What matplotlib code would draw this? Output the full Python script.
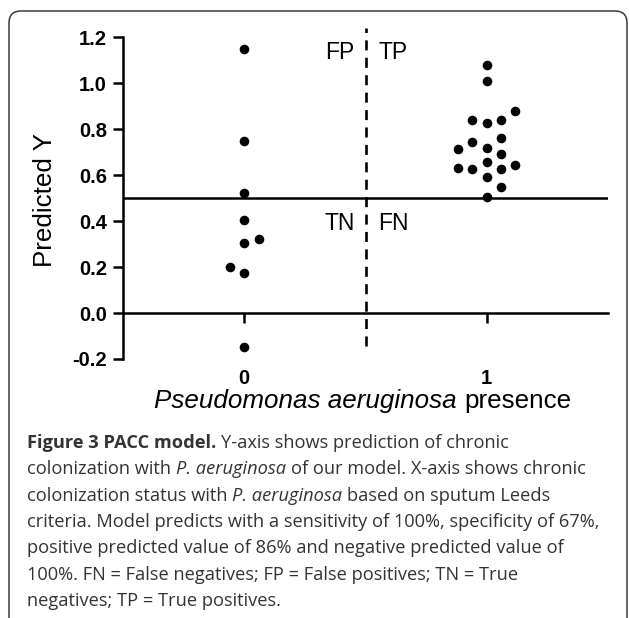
import numpy as np
import matplotlib
matplotlib.use("Agg")
import matplotlib.pyplot as plt
from matplotlib.patches import FancyBboxPatch
from matplotlib.transforms import IdentityTransform

# ---------------- data ----------------
categories = ["0", "1"]
# predicted Y for patients without / with chronic P. aeruginosa colonization
group0_pred = [1.148, 0.748, 0.522, 0.404, 0.304, 0.320, 0.173, 0.200, -0.148]
group1_pred = [1.010, 1.078, 0.828, 0.838, 0.838, 0.881, 0.719, 0.745, 0.760,
               0.655, 0.590, 0.625, 0.625, 0.632, 0.503, 0.547, 0.643, 0.694,
               0.713]
yticks = [-0.2, 0.0, 0.2, 0.4, 0.6, 0.8, 1.0, 1.2]
ytick_labels = ["-0.2", "0.0", "0.2", "0.4", "0.6", "0.8", "1.0", "1.2"]
cutoff_y = 0.5          # model decision threshold
divider_x = 0.5         # boundary between the two observed classes
quadrant_labels = {"FP": "upper left", "TP": "upper right",
                   "TN": "lower left", "FN": "lower right"}
ylabel_text = "Predicted Y"
xlabel_runs = [("Pseudomonas aeruginosa", "italic"), (" presence", "normal")]
caption_lines = [
    [("Figure 3 PACC model.", "bold"), (" Y-axis shows prediction of chronic", "normal")],
    [("colonization with ", "normal"), ("P. aeruginosa", "italic"),
     (" of our model. X-axis shows chronic", "normal")],
    [("colonization status with ", "normal"), ("P. aeruginosa", "italic"),
     (" based on sputum Leeds", "normal")],
    [("criteria. Model predicts with a sensitivity of 100%, specificity of 67%,", "normal")],
    [("positive predicted value of 86% and negative predicted value of", "normal")],
    [("100%. FN = False negatives; FP = False positives; TN = True", "normal")],
    [("negatives; TP = True positives.", "normal")],
]

# ---------------- style / layout ----------------
W, H, DPI = 629, 618, 100
CHART_FONT = ["Liberation Sans", "DejaVu Sans"]
CAP_FONT = ["Open Sans", "Lato", "DejaVu Sans"]
CAP_COLOR = "#333333"
SWARM_STEP = 0.059
SWARM_MIN_GAP = 0.058

plt.rcParams["font.family"] = CHART_FONT

fig = plt.figure(figsize=(W / DPI, H / DPI), dpi=DPI)
fig.patch.set_facecolor("white")
renderer = fig.canvas.get_renderer()

ax = fig.add_axes([123 / W, (H - 359) / H, 485 / W, 331 / H])
ax.set_xlim(-0.5, 1.5)
ax.set_ylim(-0.2, 1.24)
ax.patch.set_visible(False)
for side in ("top", "right"):
    ax.spines[side].set_visible(False)
ax.spines["bottom"].set_position(("data", 0))
ax.spines["left"].set_bounds(yticks[0], yticks[-1])
for side in ("left", "bottom"):
    ax.spines[side].set_linewidth(1.8)
    ax.spines[side].set_color("black")


def swarm_columns(values, min_gap):
    placed, cols = [], []
    n_left = n_right = 0
    for v in values:
        def free(c):
            return all(not (pc == c and abs(pv - v) < min_gap) for pc, pv in placed)
        if free(0):
            c = 0
        else:
            c, m = None, 1
            while c is None:
                order = (-m, m) if n_left < n_right else (m, -m)
                for cand in order:
                    if free(cand):
                        c = cand
                        break
                m += 1
        if c < 0:
            n_left += 1
        elif c > 0:
            n_right += 1
        placed.append((c, v))
        cols.append(c)
    return np.array(cols)


for gi, vals in enumerate([group0_pred, group1_pred]):
    cols = swarm_columns(vals, SWARM_MIN_GAP)
    xs = gi + cols * SWARM_STEP
    ax.scatter(xs, vals, s=48, color="black", linewidths=0, zorder=3, clip_on=False)

# threshold lines
ax.axhline(cutoff_y, color="black", lw=1.8, zorder=2)
ylo, yhi = ax.get_ylim()
ax.axvline(divider_x, ymin=(-0.145 - ylo) / (yhi - ylo), ymax=1.0, color="black",
           lw=1.9, linestyle=(0, (3.8, 2.8)), zorder=2)

# quadrant labels
qpos = {"upper left": (divider_x - 0.045, 1.107, "right"),
        "upper right": (divider_x + 0.052, 1.107, "left"),
        "lower left": (divider_x - 0.045, 0.361, "right"),
        "lower right": (divider_x + 0.052, 0.361, "left")}
for lab, where in quadrant_labels.items():
    qx, qy, ha = qpos[where]
    ax.text(qx, qy, lab, fontsize=16.5, ha=ha, va="baseline", color="black")

# ticks
ax.set_yticks(yticks, labels=ytick_labels)
ax.set_xticks(range(len(categories)), labels=categories)
ax.tick_params(axis="y", direction="out", length=7, width=1.8, pad=4.5, labelsize=14.5)
ax.tick_params(axis="x", direction="out", length=7, width=1.8, pad=33, labelsize=14.5)
for lab in ax.get_xticklabels() + ax.get_yticklabels():
    lab.set_fontweight("bold")

# y label
ax.set_ylabel(ylabel_text, fontsize=18.7)
ax.yaxis.set_label_coords((45 - 123) / 485, (359 - 200) / 331)
ax.yaxis.label.set_va("center")


# ---------------- mixed-style text runs ----------------
def make_text(x, base, s, size, family, kind, color):
    return fig.text(x / W, (H - base) / H, s, fontsize=size, family=family,
                    fontweight="bold" if kind == "bold" else "normal",
                    fontstyle="italic" if kind == "italic" else "normal",
                    color=color, ha="left", va="baseline")


def width_of(s, size, family, kind):
    t = make_text(0, 0, s, size, family, kind, "k")
    w = t.get_window_extent(renderer).width
    t.remove()
    return w


def space_width(size, family, kind):
    return width_of("x x", size, family, kind) - width_of("xx", size, family, kind)


def run_parts(s):
    core = s.strip(" ")
    lead = len(s) - len(s.lstrip(" "))
    trail = len(s) - len(s.rstrip(" "))
    return core, lead, trail


def line_width(runs, size, family):
    total = 0.0
    for s, kind in runs:
        core, lead, trail = run_parts(s)
        total += (lead + trail) * space_width(size, family, kind)
        total += width_of(core, size, family, kind)
    return total


def draw_runs(runs, x0, base, size, family, color):
    x = x0
    for s, kind in runs:
        core, lead, trail = run_parts(s)
        sw = space_width(size, family, kind)
        x += lead * sw
        t = make_text(x, base, core, size, family, kind, color)
        x += t.get_window_extent(renderer).width + trail * sw
    return x


# x axis label, centred under the plot
XL_SIZE = 18.7
xl_w = line_width(xlabel_runs, XL_SIZE, CHART_FONT)
draw_runs(xlabel_runs, 362.5 - xl_w / 2, 408, XL_SIZE, CHART_FONT, "black")

# caption, font size fitted so the longest line spans the reference width
size0 = 14.0
w_long = line_width(caption_lines[3], size0, CAP_FONT)
cap_size = size0 * (605 - 27) / w_long
cap_baselines = [448, 474.3, 500.6, 526.9, 553.2, 579.5, 605.8]
for runs, base in zip(caption_lines, cap_baselines):
    draw_runs(runs, 27, base, cap_size, CAP_FONT, CAP_COLOR)

# rounded frame around the figure panel (open at the bottom)
frame = FancyBboxPatch((9, -40), 618, (H - 11) + 40,
                       boxstyle="round,pad=0,rounding_size=12",
                       transform=IdentityTransform(), fill=False,
                       edgecolor="#3a3a3a", linewidth=1.1)
fig.add_artist(frame)

fig.savefig("out.png", dpi=DPI)
